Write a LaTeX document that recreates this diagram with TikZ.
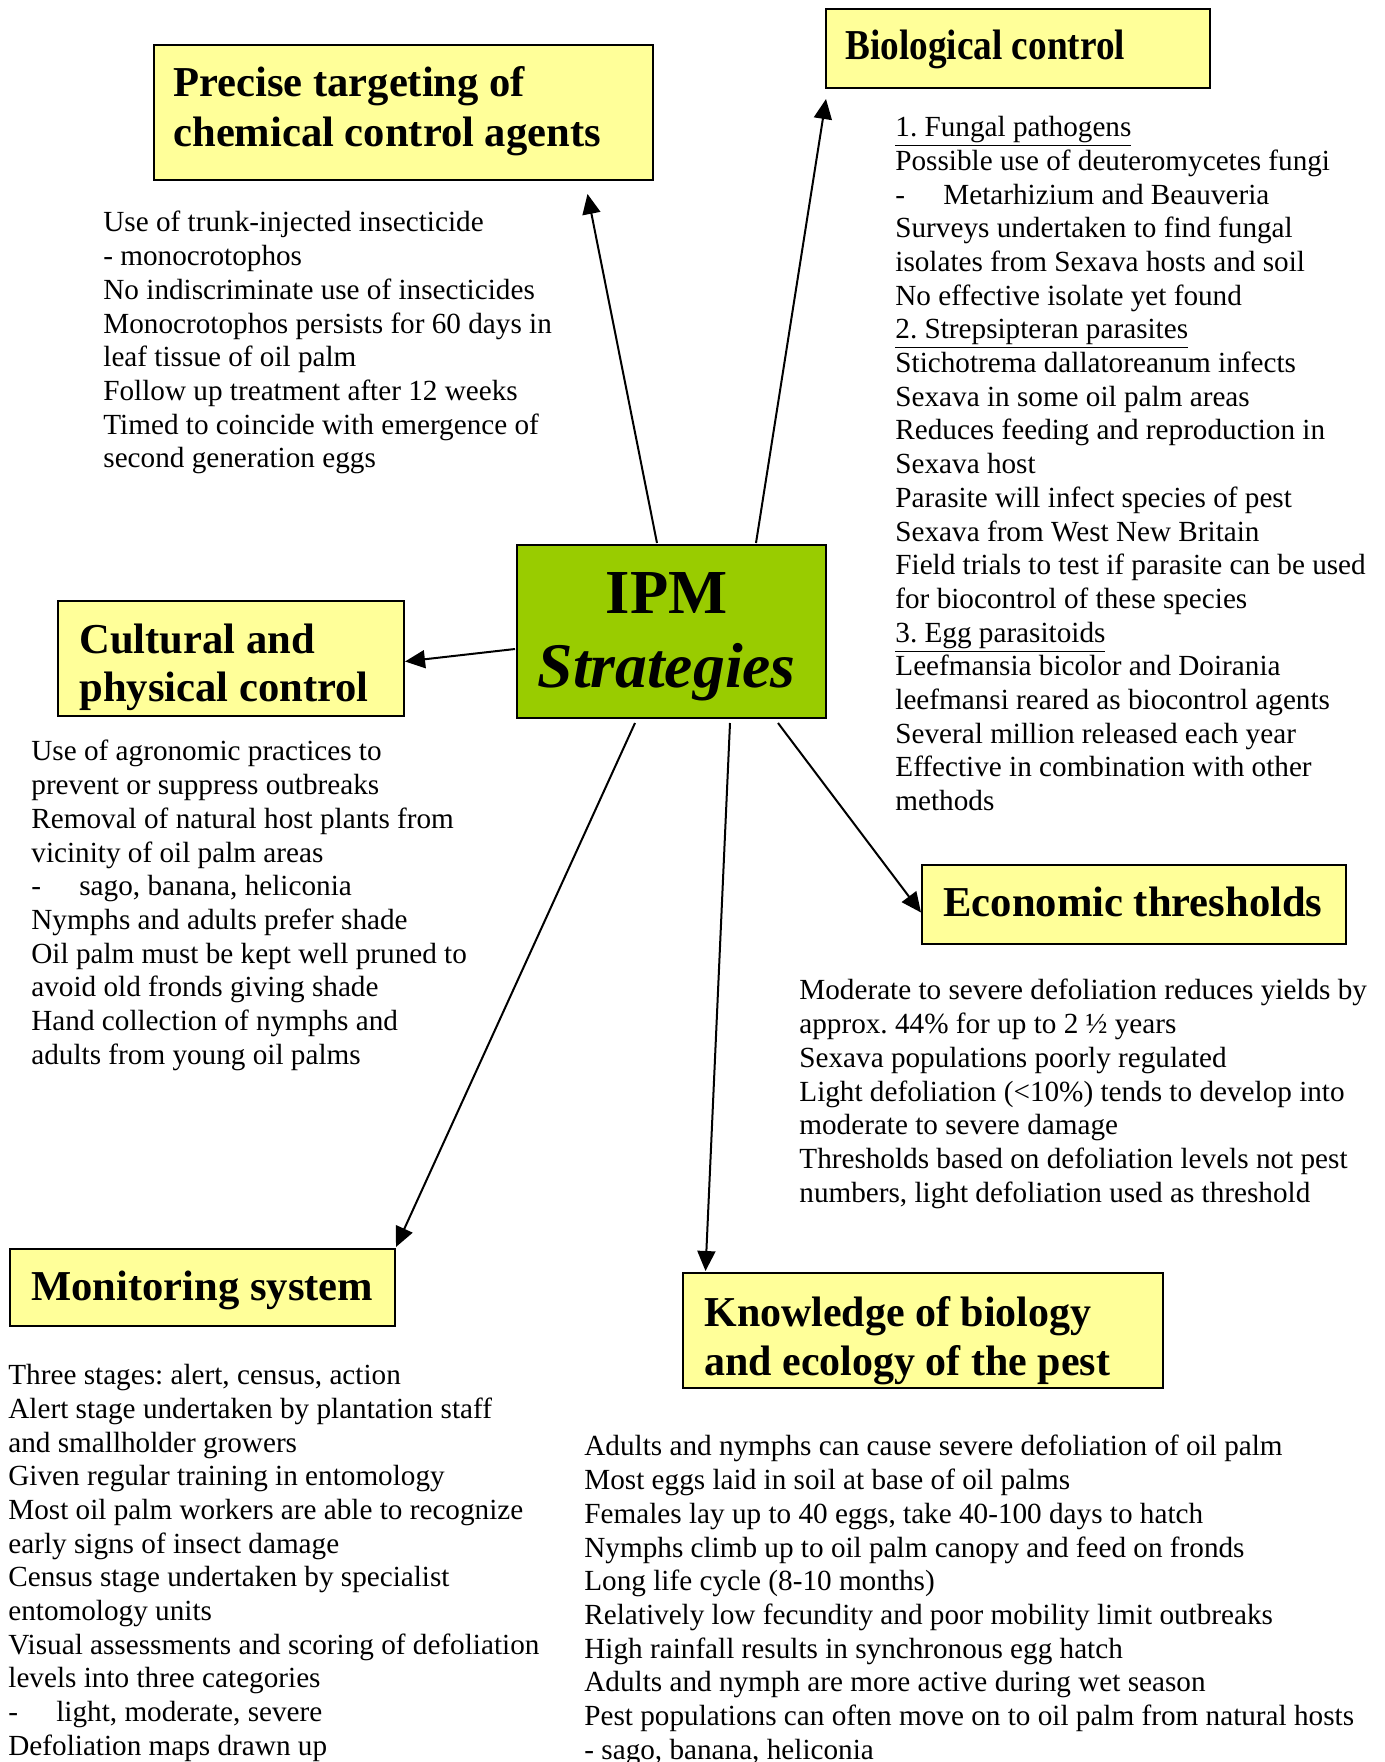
\documentclass[tikz,border=0pt]{standalone}
\usepackage{fontspec}
\usepackage{graphicx}
\setmainfont{Liberation Serif}
\usetikzlibrary{arrows.meta}
\definecolor{boxyellow}{HTML}{FFFF99}
\definecolor{ipmgreen}{HTML}{99CC00}
\newcommand{\bodyfnt}{\fontsize{14.6}{16.85}\selectfont\frenchspacing}
\newcommand{\dashitem}[1]{\makebox[24pt][l]{-}#1}
\begin{document}
\begin{tikzpicture}[x=0.5pt,y=-0.5pt,
  titlebox/.style={draw=black, line width=1pt, fill=boxyellow, inner sep=0pt},
  titletext/.style={anchor=north west, inner sep=0pt, align=left},
  bodytext/.style={anchor=north west, inner sep=0pt, align=left, font=\bodyfnt},
  conn/.style={line width=1pt, -{Triangle[length=10pt,width=9pt]}}]
\useasboundingbox (0,0) rectangle (1385,1762);

% central node
\node[draw=black, line width=1pt, fill=ipmgreen, minimum width=154.5pt, minimum height=86.5pt,
      inner sep=0pt] (ipm) at (671.5,631.5) {};
\node[anchor=north, inner sep=0pt, align=center, font={\fontsize{31.3}{37}\selectfont\bfseries}] (ipmtext) at (666.7,572)
  {IPM\\{\fontsize{31.8}{37}\selectfont\itshape Strategies}};

% title boxes
\node[titlebox, minimum width=249.5pt, minimum height=67.5pt] (precise) at (403.5,112.5) {};
\node[titletext, font={\fontsize{21.3}{24.7}\selectfont\bfseries}] (precisetitle) at (173,66.4)
  {Precise targeting of\\chemical control agents};

\node[titlebox, minimum width=192pt, minimum height=39.5pt] (bio) at (1018,48.5) {};
\node[titletext, font={\fontsize{21.3}{24}\selectfont\bfseries}] (biotitle) at (845,29.2)
  {\scalebox{0.874}[1]{Biological control}};

\node[titlebox, minimum width=173pt, minimum height=57.5pt] (cultural) at (231,658.5) {};
\node[titletext, font={\fontsize{21.3}{24.2}\selectfont\bfseries}] (culturaltitle) at (79,623.1)
  {Cultural and\\physical control};

\node[titlebox, minimum width=212pt, minimum height=39.5pt] (econ) at (1134,904.5) {};
\node[titletext, font={\fontsize{21.3}{24}\selectfont\bfseries}] (econtitle) at (943,886.2)
  {Economic thresholds};

\node[titlebox, minimum width=192.5pt, minimum height=38.5pt] (monitor) at (202.5,1287.5) {};
\node[titletext, font={\fontsize{21.3}{24}\selectfont\bfseries}] (monitortitle) at (31,1270.4)
  {Monitoring system};

\node[titlebox, minimum width=240pt, minimum height=57.5pt] (know) at (923,1330.5) {};
\node[titletext, font={\fontsize{21.3}{24.7}\selectfont\bfseries}] (knowtitle) at (704,1295.7)
  {\scalebox{0.985}[1]{Knowledge of biology}\\\scalebox{0.985}[1]{and ecology of the pest}};

% body texts
\node[bodytext] (precisetext) at (103,211) {Use of trunk-injected insecticide\\
- monocrotophos\\
No indiscriminate use of insecticides\\
Monocrotophos persists for 60 days in\\
leaf tissue of oil palm\\
Follow up treatment after 12 weeks\\
Timed to coincide with emergence of\\
second generation eggs};

\node[bodytext] (biotext) at (895,116) {\underline{1. Fungal pathogens}\\
Possible use of deuteromycetes fungi\\
\dashitem{Metarhizium and Beauveria}\\
Surveys undertaken to find fungal\\
isolates from Sexava hosts and soil\\
No effective isolate yet found\\
\underline{2. Strepsipteran parasites}\\
Stichotrema dallatoreanum infects\\
Sexava in some oil palm areas\\
Reduces feeding and reproduction in\\
Sexava host\\
Parasite will infect species of pest\\
Sexava from West New Britain\\
Field trials to test if parasite can be used\\
for biocontrol of these species\\
\underline{3. Egg parasitoids}\\
Leefmansia bicolor and Doirania\\
leefmansi reared as biocontrol agents\\
Several million released each year\\
Effective in combination with other\\
methods};

\node[bodytext] (culturaltext) at (31,740) {Use of agronomic practices to\\
prevent or suppress outbreaks\\
Removal of natural host plants from\\
vicinity of oil palm areas\\
\dashitem{sago, banana, heliconia}\\
Nymphs and adults prefer shade\\
Oil palm must be kept well pruned to\\
avoid old fronds giving shade\\
Hand collection of nymphs and\\
adults from young oil palms};

\node[bodytext] (econtext) at (799,979) {Moderate to severe defoliation reduces yields by\\
approx. 44\% for up to 2 ½ years\\
Sexava populations poorly regulated\\
Light defoliation (<10\%) tends to develop into\\
moderate to severe damage\\
Thresholds based on defoliation levels not pest\\
numbers, light defoliation used as threshold};

\node[bodytext] (monitortext) at (8,1364) {Three stages: alert, census, action\\
Alert stage undertaken by plantation staff\\
and smallholder growers\\
Given regular training in entomology\\
Most oil palm workers are able to recognize\\
early signs of insect damage\\
Census stage undertaken by specialist\\
entomology units\\
Visual assessments and scoring of defoliation\\
levels into three categories\\
\dashitem{light, moderate, severe}\\
Defoliation maps drawn up};

\node[bodytext] (knowtext) at (584,1435) {Adults and nymphs can cause severe defoliation of oil palm\\
Most eggs laid in soil at base of oil palms\\
Females lay up to 40 eggs, take 40-100 days to hatch\\
Nymphs climb up to oil palm canopy and feed on fronds\\
Long life cycle (8-10 months)\\
Relatively low fecundity and poor mobility limit outbreaks\\
High rainfall results in synchronous egg hatch\\
Adults and nymph are more active during wet season\\
Pest populations can often move on to oil palm from natural hosts\\
- sago, banana, heliconia};

% connectors
\draw[conn] ([shift={(-14.5,-1)}]ipm.north) -- ([shift={(184,13)}]precise.south);
\draw[conn] ([shift={(84.5,-1)}]ipm.north) -- ([shift={(1,10)}]bio.south west);
\draw[conn] ([shift={(-1,17.5)}]ipm.west) -- ([shift={(0,3)}]cultural.east);
\draw[conn] ([shift={(-36.5,4)}]ipm.south) -- ([shift={(0,-1)}]monitor.north east);
\draw[conn] ([shift={(58.5,4)}]ipm.south) -- ([shift={(23.5,-1)}]know.north west);
\draw[conn] ([shift={(106.5,4)}]ipm.south) -- ([shift={(0,8)}]econ.west);
\end{tikzpicture}
\end{document}
